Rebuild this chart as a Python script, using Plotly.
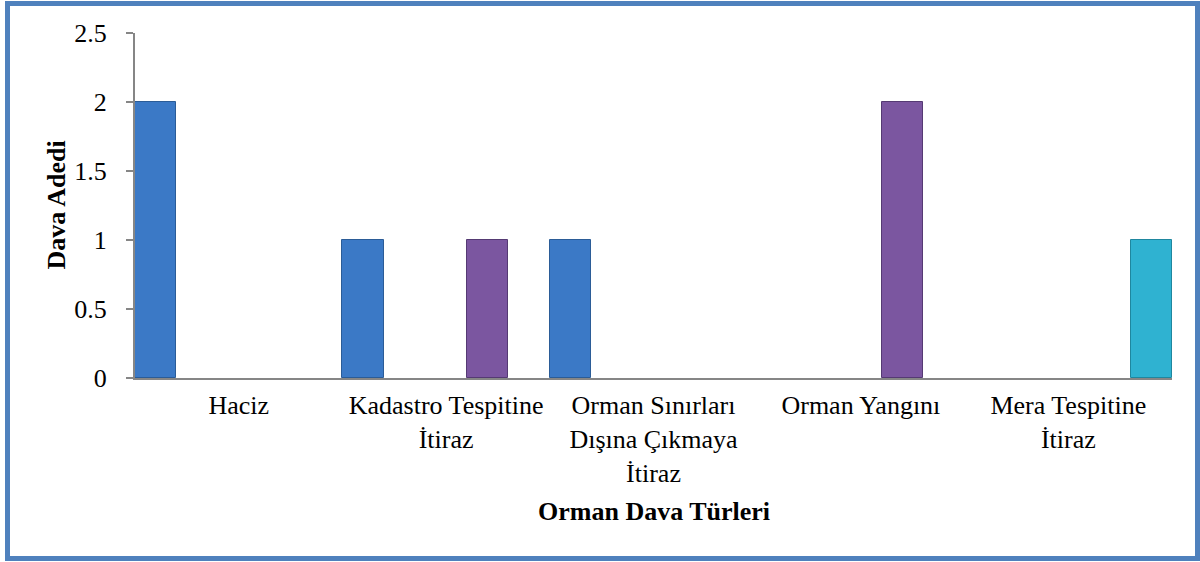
import plotly.graph_objects as go

# Orman dava türleri (x categories)
categories = [
    "Haciz",
    "Kadastro Tespitine<br>İtiraz",
    "Orman Sınırları<br>Dışına Çıkmaya<br>İtiraz",
    "Orman Yangını",
    "Mera Tespitine<br>İtiraz",
]

# five series in Excel's default order; only 1, 4 and 5 have cases
series_names = ["Seri 1", "Seri 2", "Seri 3", "Seri 4", "Seri 5"]
seri_1 = [2, 1, 1, 0, 0]
seri_2 = [0, 0, 0, 0, 0]
seri_3 = [0, 0, 0, 0, 0]
seri_4 = [0, 1, 0, 2, 0]
seri_5 = [0, 0, 0, 0, 1]

y_ticks = [0, 0.5, 1, 1.5, 2, 2.5]

fills = ["#3B79C6", "#C0504D", "#9BBB59", "#7B56A0", "#2FB2D1"]
edges = ["#2B5C97", "#8C3836", "#71893F", "#553A73", "#1F879F"]

FONT = "Liberation Serif, Times New Roman, serif"

fig = go.Figure()
for name, vals, fc, ec in zip(series_names, [seri_1, seri_2, seri_3, seri_4, seri_5], fills, edges):
    fig.add_trace(go.Bar(
        x=categories,
        y=vals,
        name=name,
        # no outline on empty bars, so nothing is drawn along the axis
        marker=dict(color=fc, line=dict(color=ec, width=[1 if v > 0 else 0 for v in vals])),
    ))

fig.update_layout(
    width=1200,
    height=562,
    barmode="group",
    bargap=0,
    bargroupgap=0,
    showlegend=False,
    plot_bgcolor="white",
    paper_bgcolor="white",
    margin=dict(l=135, r=28, t=33, b=184, autoexpand=False),
    font=dict(family=FONT, size=26, color="black"),
    xaxis=dict(
        showline=True, linecolor="#868686", linewidth=2,
        ticks="", showgrid=False, zeroline=False,
        tickfont=dict(size=26), ticklabelstandoff=3,
        automargin=False,
    ),
    yaxis=dict(
        range=[0, 2.5], tickvals=y_ticks, ticktext=[f"{v:g}" for v in y_ticks],
        showline=True, linecolor="#868686", linewidth=2,
        ticks="outside", ticklen=7, tickcolor="#868686", tickwidth=2,
        showgrid=False, zeroline=False,
        tickfont=dict(size=26), ticklabelstandoff=14,
        automargin=False,
    ),
    annotations=[
        dict(text="<b>Orman Dava Türleri</b>", xref="paper", yref="paper",
             x=0.5, y=(378 - 511) / 345, xanchor="center", yanchor="middle",
             showarrow=False, font=dict(size=26)),
        dict(text="<b>Dava Adedi</b>", xref="paper", yref="paper",
             x=(56 - 135) / 1037, y=0.5, xanchor="center", yanchor="middle",
             textangle=-90, showarrow=False, font=dict(size=26)),
    ],
    shapes=[
        dict(type="rect", xref="paper", yref="paper",
             x0=(7.5 - 135) / 1037, x1=(1197.5 - 135) / 1037,
             y0=(378 - 558.5) / 345, y1=(378 - 3.5) / 345,
             line=dict(color="#4F81BD", width=5), fillcolor="rgba(0,0,0,0)"),
    ],
)

fig.write_html(
    "out.html",
    config={"displayModeBar": False},
    post_script="document.body.style.margin='0';document.body.style.overflow='hidden';",
)
